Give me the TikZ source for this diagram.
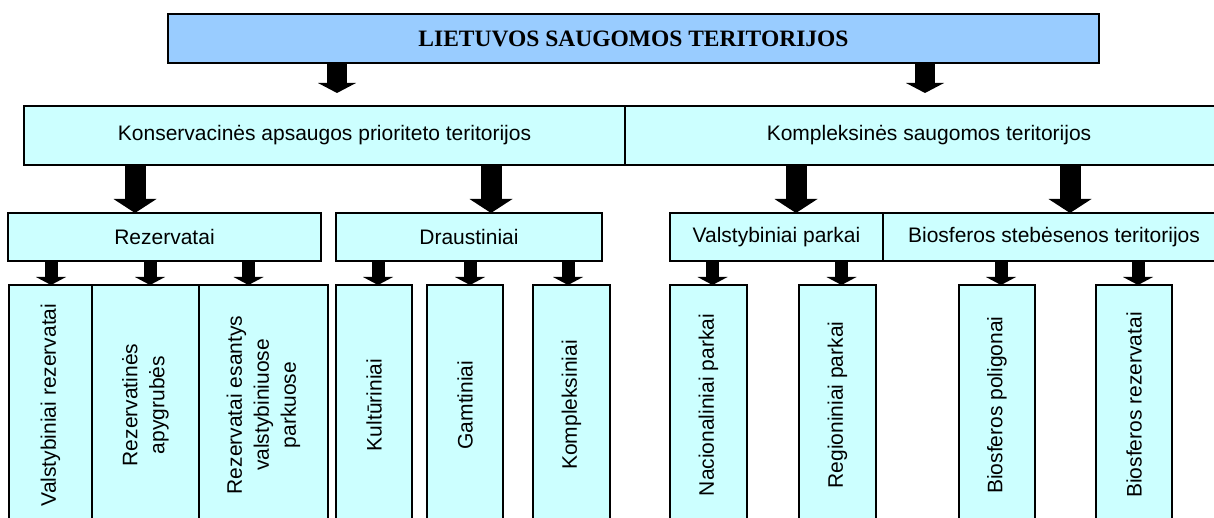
\documentclass[tikz,border=0pt]{standalone}
\usepackage{fontspec}
\setmainfont{Liberation Sans}
\newfontfamily\titlefont{Liberation Serif}
\usetikzlibrary{arrows.meta}
\definecolor{TitleBlue}{HTML}{99CCFF}
\definecolor{PaleCyan}{HTML}{CCFFFF}

\begin{document}
\begin{tikzpicture}[x=1pt,y=-1pt]
\tikzstyle{box}=[rectangle,draw=black,line width=1.4pt,fill=PaleCyan,inner sep=0pt,outer sep=0pt,font=\fontsize{21}{27}\selectfont,align=center]
\tikzstyle{leaf}=[box,rotate=90,minimum width=240pt]
\tikzstyle{toparrow}=[line width=20pt,-{Triangle[length=10pt,width=38pt,line width=0pt]}]
\tikzstyle{midarrow}=[line width=21pt,-{Triangle[length=14pt,width=43pt,line width=0pt]}]
\tikzstyle{smallarrow}=[line width=13pt,-{Triangle[length=8pt,width=30pt,line width=0pt]}]
\useasboundingbox (0,0) rectangle (1214,518);
\clip (0,0) rectangle (1214,518);
% title
\node[box,fill=TitleBlue,minimum width=931pt,minimum height=49pt,font=\titlefont\bfseries\fontsize{23.5}{28}\selectfont] (lst) at (633.5,38.5) {LIETUVOS SAUGOMOS TERITORIJOS};
% two groups
\node[box,minimum width=601pt,minimum height=59pt] (kons) at (324.5,135.5) {Konservacinės apsaugos prioriteto teritorijos};
\node[box,minimum width=608pt,minimum height=59pt] (kompl) at (929,135.5) {Kompleksinės saugomos teritorijos};
% kinds
\node[box,minimum width=313pt,minimum height=48pt] (rez) at (164.5,237) {Rezervatai};
\node[box,minimum width=266pt,minimum height=48pt] (dra) at (469,237) {Draustiniai};
\node[box,minimum width=213pt,minimum height=48pt] (vp) at (776.5,237) {Valstybiniai parkai};
\node[box,minimum width=342pt,minimum height=48pt] (bst) at (1054,237) {Biosferos stebėsenos teritorijos};
% leaves
\node[leaf,minimum height=83pt] (vr) at (50.5,405) {Valstybiniai rezervatai};
\node[leaf,minimum height=107pt] (ra) at (145.5,405) {Rezervatinės\\apygrubės};
\node[leaf,minimum height=129pt] (re) at (263.5,405) {Rezervatai esantys\\valstybiniuose\\parkuose};
\node[leaf,minimum height=76pt] (ku) at (374,405) {Kultūriniai};
\node[leaf,minimum height=76pt] (ga) at (465,405) {Gamtiniai};
\node[leaf,minimum height=77pt] (ko) at (571.5,405) {Kompleksiniai};
\node[leaf,minimum height=77pt] (na) at (708.5,405) {Nacionaliniai parkai};
\node[leaf,minimum height=77pt] (rg) at (837.5,405) {Regioniniai parkai};
\node[leaf,minimum height=76pt] (bp) at (997,405) {Biosferos poligonai};
\node[leaf,minimum height=76pt] (br) at (1134,405) {Biosferos rezervatai};
% arrows
\draw[toparrow,shorten >=13pt] (lst.south -| 337,0) -- (kons.north -| 337,0);
\draw[toparrow,shorten >=13pt] (lst.south -| 925,0) -- (kompl.north -| 925,0);
\draw[midarrow] (kons.south -| 135,0) -- (rez.north -| 135,0);
\draw[midarrow] (kons.south -| 491,0) -- (dra.north -| 491,0);
\draw[midarrow] (kompl.south -| 796,0) -- (vp.north -| 796,0);
\draw[midarrow] (kompl.south -| 1070,0) -- (bst.north -| 1070,0);
\draw[smallarrow] (rez.south -| 51,0) -- (vr.east -| 51,0);
\draw[smallarrow] (rez.south -| 150,0) -- (ra.east -| 150,0);
\draw[smallarrow] (rez.south -| 248.5,0) -- (re.east -| 248.5,0);
\draw[smallarrow] (dra.south -| 378,0) -- (ku.east -| 378,0);
\draw[smallarrow] (dra.south -| 470,0) -- (ga.east -| 470,0);
\draw[smallarrow] (dra.south -| 568,0) -- (ko.east -| 568,0);
\draw[smallarrow] (vp.south -| 712.5,0) -- (na.east -| 712.5,0);
\draw[smallarrow] (vp.south -| 841.5,0) -- (rg.east -| 841.5,0);
\draw[smallarrow] (bst.south -| 1001,0) -- (bp.east -| 1001,0);
\draw[smallarrow] (bst.south -| 1138,0) -- (br.east -| 1138,0);
\end{tikzpicture}
\end{document}
